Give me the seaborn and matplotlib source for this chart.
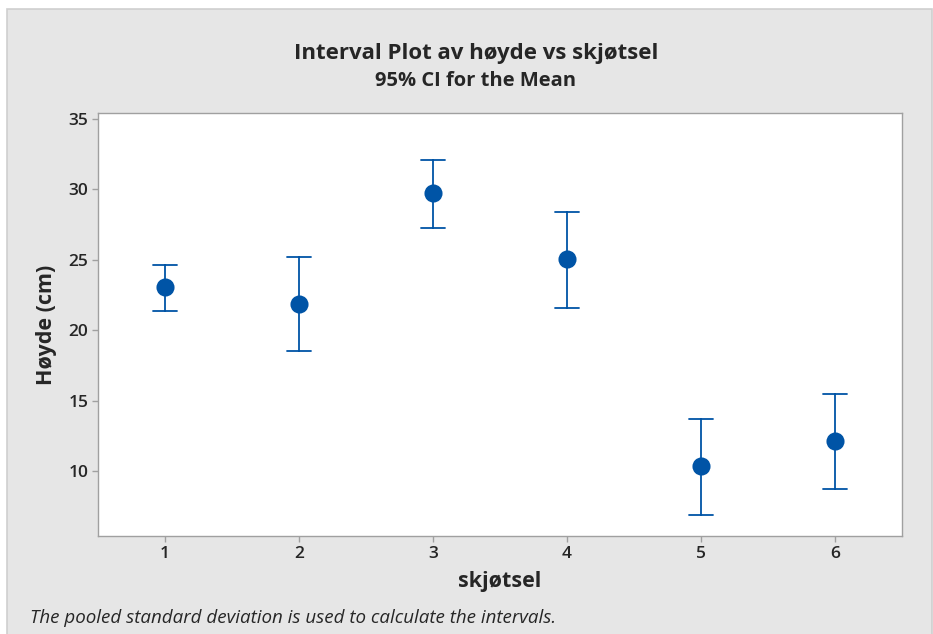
import matplotlib
matplotlib.use("Agg")
import matplotlib.pyplot as plt
import pandas as pd
import seaborn as sns
from matplotlib.patches import Rectangle

# group labels and 95% CI
groups = ["1", "2", "3", "4", "5", "6"]
means = [23.07, 21.86, 29.74, 25.06, 10.36, 12.13]
lower = [21.36, 18.52, 27.30, 21.58, 6.88, 8.72]
upper = [24.63, 25.20, 32.09, 28.40, 13.70, 15.47]

yticks = [10, 15, 20, 25, 30, 35]

BLUE = "#0054a6"
BG = "#e6e6e6"
W, H = 933, 634


def build_frame():
    rows = []
    for g, lo, m, hi in zip(groups, lower, means, upper):
        for v in (lo, m, hi):
            rows.append({"skjøtsel": g, "Høyde (cm)": v})
    return pd.DataFrame(rows)


def main():
    sns.set_style("white")
    plt.rcParams["font.family"] = ["Open Sans", "DejaVu Sans"]

    df = build_frame()

    fig = plt.figure(figsize=(W / 100, H / 100), dpi=100, facecolor="white")
    # gray panel with a thin border, leaving a white strip top and left
    fig.patches.append(Rectangle((7 / W, -0.05), 1 - 7 / W - 1.5 / W, 1.05 - 9 / H,
                                 transform=fig.transFigure, facecolor=BG,
                                 edgecolor="#cfcfcf", linewidth=1.2, zorder=-10))

    ax = fig.add_axes([98 / W, 1 - 536 / H, (902 - 98) / W, (536 - 113) / H])
    ax.set_zorder(2)
    ax.set_facecolor("white")

    # median of (lo, mean, hi) is the mean; full percentile range gives the CI
    sns.pointplot(data=df, x="skjøtsel", y="Høyde (cm)", estimator="median",
                  errorbar=("pi", 100), linestyle="none", color=BLUE,
                  markersize=11, err_kws={"linewidth": 1.3}, capsize=0.18, ax=ax)

    ax.set_xlim(-0.5, 5.5)
    ax.set_ylim(5.4, 35.43)
    ax.set_yticks(yticks)

    for s in ax.spines.values():
        s.set_color("#a0a0a0")
        s.set_linewidth(1.0)
    ax.tick_params(axis="both", which="both", direction="out", length=4,
                   width=1, color="#a0a0a0", labelsize=12.5, pad=3,
                   left=True, bottom=True)
    for lbl in ax.get_xticklabels() + ax.get_yticklabels():
        lbl.set_fontweight("semibold")

    ax.set_xlabel("skjøtsel", fontsize=15.5, fontweight="bold", labelpad=7)
    ax.set_ylabel("Høyde (cm)", fontsize=15.5, fontweight="bold", labelpad=8)

    fig.text(476 / W, 1 - 53 / H, "Interval Plot av høyde vs skjøtsel",
             ha="center", va="center", fontsize=16, fontweight="bold")
    fig.text(476 / W, 1 - 81 / H, "95% CI for the Mean",
             ha="center", va="center", fontsize=14.5, fontweight="bold")
    fig.text(30 / W, 1 - 618 / H,
             "The pooled standard deviation is used to calculate the intervals.",
             ha="left", va="center", fontsize=13.5, fontstyle="italic")

    fig.savefig("out.png", dpi=100, facecolor="white")
    plt.close(fig)


if __name__ == "__main__":
    main()
